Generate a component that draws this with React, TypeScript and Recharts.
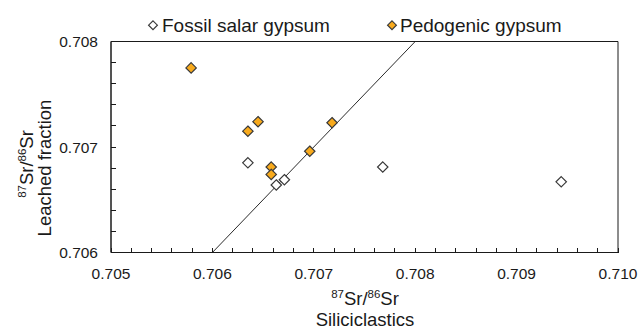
import React from 'react';
import { ScatterChart, Scatter, XAxis, YAxis, ReferenceArea } from 'recharts';

// Siliciclastics 87Sr/86Sr (x) vs leached fraction 87Sr/86Sr (y)
const fossilX = [0.70635, 0.70663, 0.70671, 0.70768, 0.70944];
const fossilY = [0.70685, 0.70664, 0.70669, 0.70681, 0.70667];

const pedoX = [0.70579, 0.70635, 0.70645, 0.70658, 0.70658, 0.70696, 0.70718];
const pedoY = [0.70775, 0.70715, 0.70724, 0.70681, 0.70674, 0.70696, 0.70723];

// 1:1 line
const lineX = [0.706, 0.708];
const lineY = [0.706, 0.708];

const xTicks = [
  0.705, 0.7052, 0.7054, 0.7056, 0.7058, 0.706, 0.7062, 0.7064, 0.7066, 0.7068,
  0.707, 0.7072, 0.7074, 0.7076, 0.7078, 0.708, 0.7082, 0.7084, 0.7086, 0.7088,
  0.709, 0.7092, 0.7094, 0.7096, 0.7098, 0.71,
];
const yTicks = [0.706, 0.7062, 0.7064, 0.7066, 0.7068, 0.707, 0.7072, 0.7074, 0.7076, 0.7078, 0.708];

const fossilData = fossilX.map((x, i) => ({ x, y: fossilY[i] }));
const pedoData = pedoX.map((x, i) => ({ x, y: pedoY[i] }));
const lineData = lineX.map((x, i) => ({ x, y: lineY[i] }));

const FONT = '"Liberation Sans", Arial, sans-serif';
const INK = '#1a1a1a';
const ORANGE = '#F8AA1C';

const isMajor = (v: number) => Math.abs(v * 1000 - Math.round(v * 1000)) < 1e-6;

const XTick = (props: any) => {
  const { x, y, payload } = props;
  const v = payload.value;
  return (
    <g>
      <line x1={x} y1={y} x2={x} y2={y - 5} stroke={INK} strokeWidth={1} shapeRendering="crispEdges" />
      {isMajor(v) && (
        <text x={x} y={y + 26} textAnchor="middle" fontSize={15.5} fontFamily={FONT} fill={INK}>
          {v.toFixed(3)}
        </text>
      )}
    </g>
  );
};

const YTick = (props: any) => {
  const { x, y, payload } = props;
  const v = payload.value;
  return (
    <g>
      <line x1={x} y1={y} x2={x + 5} y2={y} stroke={INK} strokeWidth={1} shapeRendering="crispEdges" />
      {isMajor(v) && (
        <text x={x - 13} y={y + 5.5} textAnchor="end" fontSize={15.5} fontFamily={FONT} fill={INK}>
          {v.toFixed(3)}
        </text>
      )}
    </g>
  );
};

const diamond = (fill: string) => (props: any) => {
  const { cx, cy } = props;
  const r = 5.2;
  return (
    <polygon
      points={`${cx},${cy - r} ${cx + r},${cy} ${cx},${cy + r} ${cx - r},${cy}`}
      fill={fill}
      stroke="#3a3a3a"
      strokeWidth={1.2}
    />
  );
};

const SrLabel = ({ x, y, rotate }: { x: number; y: number; rotate?: boolean }) => (
  <text
    x={x}
    y={y}
    textAnchor="middle"
    fontSize={18.5}
    fontFamily={FONT}
    fill={INK}
    transform={rotate ? `rotate(-90, ${x}, ${y})` : undefined}
  >
    <tspan fontSize={11.5} dy={-7}>87</tspan>
    <tspan dy={7}>Sr/</tspan>
    <tspan fontSize={11.5} dy={-7}>86</tspan>
    <tspan dy={7}>Sr</tspan>
  </text>
);

const Overlay = () => (
  <svg
    width={639}
    height={329}
    style={{ position: 'absolute', left: 0, top: 0, pointerEvents: 'none' }}
  >
    {/* legend */}
    <polygon points="153,20.8 157.4,25.2 153,29.6 148.6,25.2" fill="#fff" stroke="#3a3a3a" strokeWidth={1.2} />
    <text x={162} y={32} fontSize={19} fontFamily={FONT} fill={INK}>Fossil salar gypsum</text>
    <polygon points="392,20.8 396.4,25.2 392,29.6 387.6,25.2" fill={ORANGE} stroke="#3a3a3a" strokeWidth={1.2} />
    <text x={400} y={32} fontSize={19} fontFamily={FONT} fill={INK}>Pedogenic gypsum</text>

    {/* x title */}
    <SrLabel x={365} y={305} />
    <text x={365} y={326} textAnchor="middle" fontSize={18.5} fontFamily={FONT} fill={INK}>
      Siliciclastics
    </text>

    {/* y title */}
    <SrLabel x={33} y={164} rotate />
    <text
      x={50.5}
      y={168}
      textAnchor="middle"
      fontSize={18.5}
      fontFamily={FONT}
      fill={INK}
      transform="rotate(-90, 50.5, 168)"
    >
      Leached fraction
    </text>
  </svg>
);

export default function App() {
  return (
    <div style={{ position: 'absolute', left: 0, top: 0, width: 639, height: 329, background: '#fff' }}>
      <ScatterChart
        width={639}
        height={329}
        margin={{ top: 41.5, right: 21, bottom: 46.5, left: 51 }}
      >
        <XAxis
          type="number"
          dataKey="x"
          domain={[0.705, 0.71]}
          ticks={xTicks}
          interval={0}
          height={30}
          tickSize={0}
          tickMargin={0}
          tickLine={false}
          axisLine={{ stroke: INK, strokeWidth: 1 }}
          tick={<XTick />}
          allowDataOverflow
        />
        <YAxis
          type="number"
          dataKey="y"
          domain={[0.706, 0.708]}
          ticks={yTicks}
          interval={0}
          width={60}
          tickSize={0}
          tickMargin={0}
          tickLine={false}
          axisLine={{ stroke: INK, strokeWidth: 1 }}
          tick={<YTick />}
          allowDataOverflow
        />
        <ReferenceArea
          x1={0.705}
          x2={0.71}
          y1={0.706}
          y2={0.708}
          fill="none"
          fillOpacity={0}
          stroke={INK}
          strokeWidth={1}
        />
        <Scatter
          data={lineData}
          line={{ stroke: '#2a2a2a', strokeWidth: 1 }}
          shape={() => <g />}
          isAnimationActive={false}
        />
        <Scatter data={fossilData} shape={diamond('#fff')} isAnimationActive={false} />
        <Scatter data={pedoData} shape={diamond(ORANGE)} isAnimationActive={false} />
      </ScatterChart>
      <Overlay />
    </div>
  );
}
